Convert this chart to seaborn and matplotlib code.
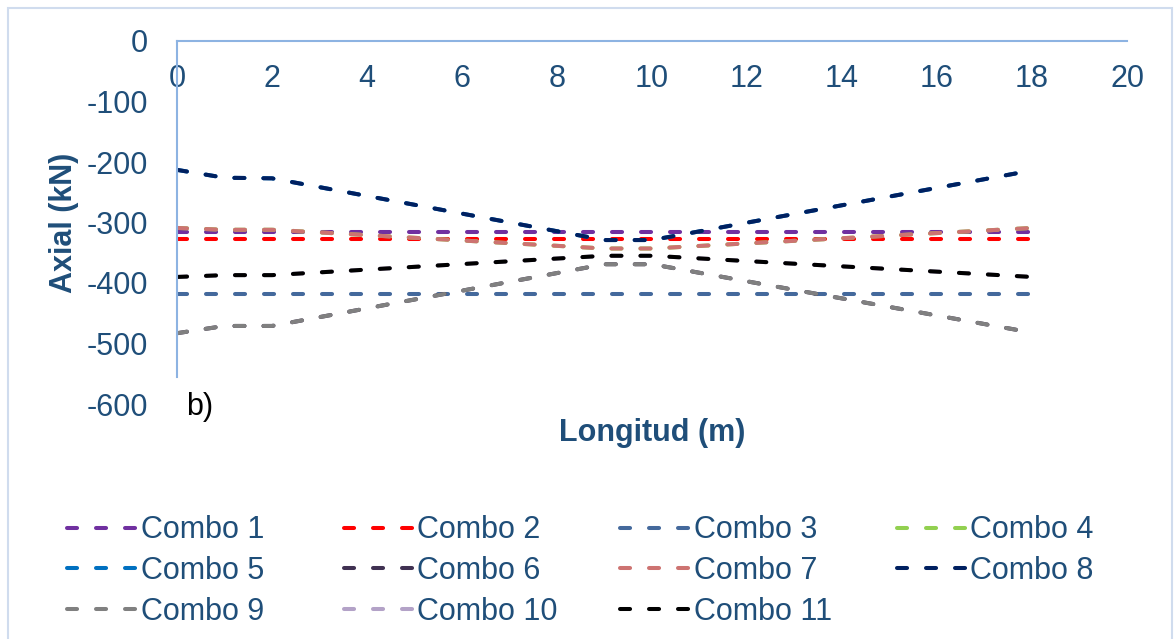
import matplotlib
matplotlib.use('Agg')

import seaborn as sns
import matplotlib.pyplot as plt
import pandas as pd
from matplotlib.lines import Line2D
from matplotlib.patches import Rectangle

# Datos (Axial en kN a lo largo de la longitud en m)
longitud = [0, 1, 2, 9, 10, 18]
combo_1 = [-316, -316, -316, -316, -316, -316]
combo_2 = [-327, -327, -327, -327, -327, -327]
combo_3 = [-419, -419, -419, -419, -419, -419]
combo_4 = [-309, -312, -312, -343, -343, -309]
combo_5 = [-213, -226, -227, -329, -329, -214]
combo_6 = [-483, -471, -471, -369, -369, -482]
combo_7 = [-309, -312, -312, -343, -343, -309]
combo_8 = [-213, -226, -227, -329, -329, -214]
combo_9 = [-483, -471, -471, -369, -369, -482]
combo_10 = [-390, -387, -387, -355, -355, -390]
combo_11 = [-390, -387, -387, -355, -355, -390]

nombres = ['Combo %d' % i for i in range(1, 12)]
series = [combo_1, combo_2, combo_3, combo_4, combo_5, combo_6,
          combo_7, combo_8, combo_9, combo_10, combo_11]
colores = ['#7030A0', '#FF0000', '#44699C', '#92D050', '#0070C0', '#403152',
           '#CD7371', '#002060', '#808080', '#B3A2C7', '#000000']

filas = []
for nombre, vals in zip(nombres, series):
    for x, y in zip(longitud, vals):
        filas.append({'combo': nombre, 'x': x, 'axial': y})
df = pd.DataFrame(filas)

sns.set_style('white')
plt.rcParams['font.family'] = ['Liberation Sans', 'DejaVu Sans']
plt.rcParams['axes.unicode_minus'] = False

texto = '#1F4E79'
eje = '#8DB3E2'
patron = (2.5, 4.7)

fig = plt.figure(figsize=(11.74, 6.39), dpi=100)
ax = fig.add_axes([177 / 1174, 1 - 404 / 639, 950 / 1174, 363 / 639])

sns.lineplot(data=df, x='x', y='axial', hue='combo', palette=dict(zip(nombres, colores)),
             style='combo', dashes={n: patron for n in nombres}, linewidth=2.9,
             estimator=None, sort=False, legend=False, ax=ax)
for ln in ax.lines:
    ln.set_dash_capstyle('round')

ax.set_xlim(0, 20)
ax.set_ylim(-600, 0)
ax.set_xticks(range(0, 21, 2))
ax.set_yticks(range(-600, 1, 100))

for s in ['right', 'bottom']:
    ax.spines[s].set_visible(False)
for s in ['top', 'left']:
    ax.spines[s].set_color(eje)
    ax.spines[s].set_linewidth(1.5)
ax.spines['left'].set_bounds(-555, 0)

ax.tick_params(axis='x', top=False, bottom=False, labeltop=True, labelbottom=False,
               pad=-38, labelsize=22, labelcolor=texto, length=0)
ax.tick_params(axis='y', left=False, labelsize=22, labelcolor=texto, pad=21, length=0)

ax.set_xlabel('Longitud (m)', fontsize=22, fontweight='bold', color=texto, labelpad=10)
ax.xaxis.set_label_position('bottom')
ax.set_ylabel('Axial (kN)', fontsize=22, fontweight='bold', color=texto, labelpad=5)

fig.text(186 / 1174, 1 - 407 / 639, 'b)', fontsize=22, color='black', va='center')

# leyenda en 4 columnas de ancho fijo (como Excel), una leyenda por columna
for j in range(4):
    idx = list(range(j, 11, 4))
    handles = [Line2D([], [], color=colores[i], linewidth=2.9, dashes=patron,
                      dash_capstyle='round') for i in idx]
    fig.legend(handles, [nombres[i] for i in idx], loc='upper left',
               bbox_to_anchor=((52 + j * 276.5) / 1174, 1 - 500 / 639),
               frameon=False, fontsize=22, labelcolor=texto, handlelength=2.3,
               handletextpad=0.1, labelspacing=0.35, borderpad=0)

fig.patches.append(Rectangle((8 / 1174, -0.05), 1164 / 1174, 1.05 - 8 / 639,
                             transform=fig.transFigure, fill=False,
                             edgecolor='#D0DCEE', linewidth=1.5))

fig.savefig('out.png', dpi=100)
plt.close('all')
